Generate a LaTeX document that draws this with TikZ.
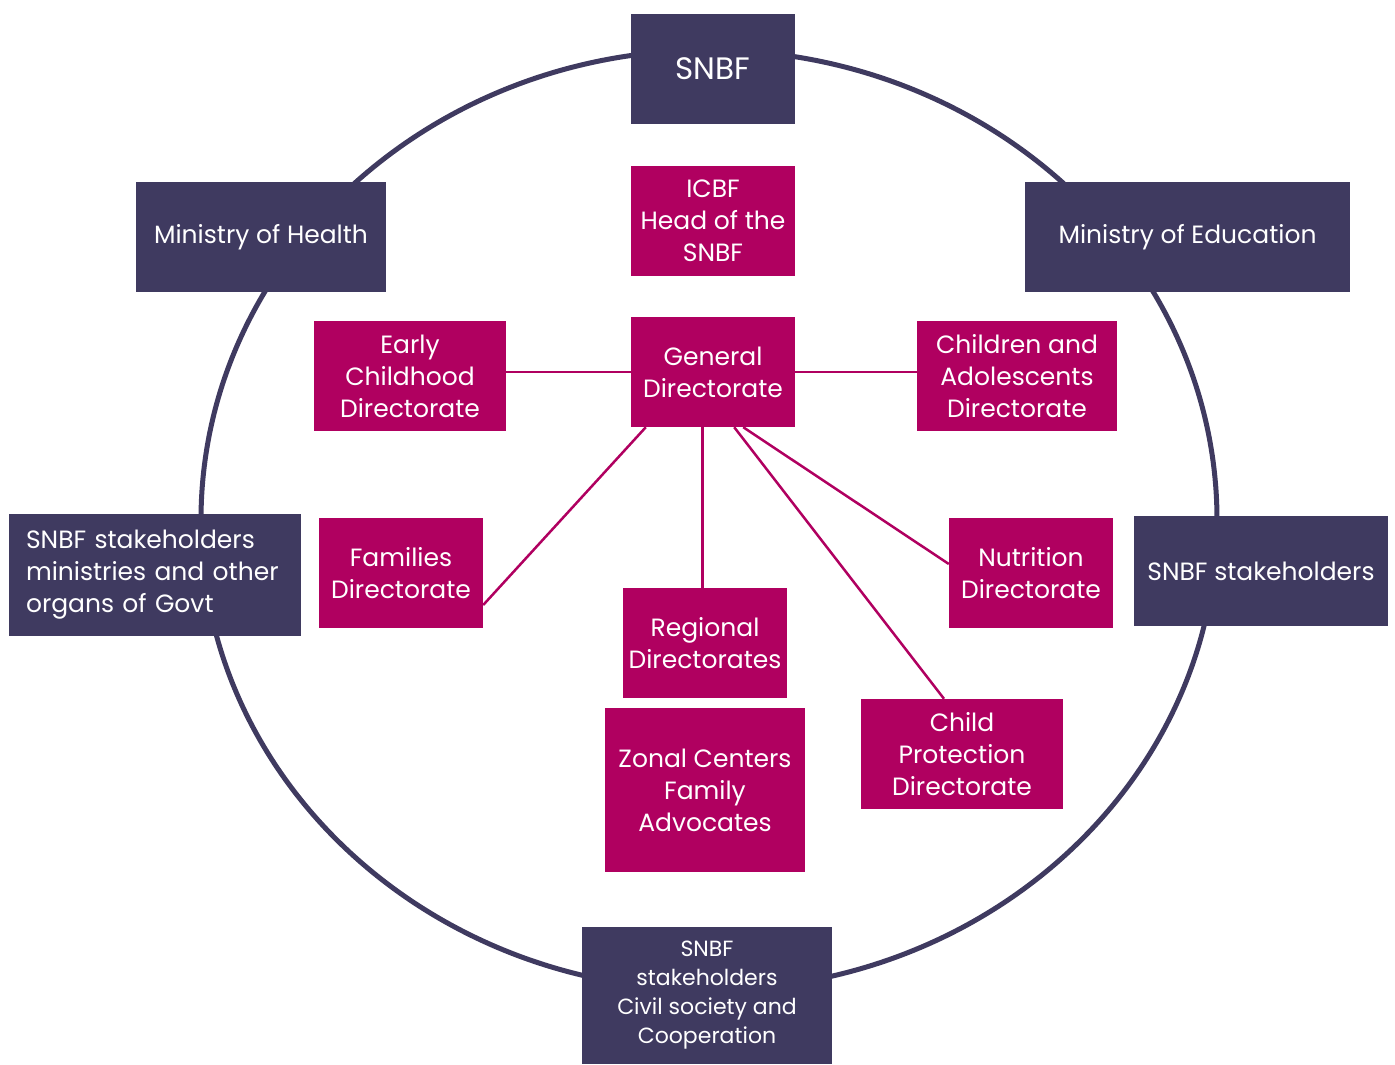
\documentclass[tikz,border=0pt]{standalone}
\usepackage{fontspec}
\setmainfont{Poppins}
\usetikzlibrary{calc}
\definecolor{navy}{RGB}{63,58,96}
\definecolor{mag}{RGB}{176,0,96}
\tikzset{
  dbox/.style={fill=navy, text=white, inner sep=0pt, align=center, font=\fontsize{25}{32}\selectfont},
  mbox/.style={fill=mag, text=white, inner sep=0pt, align=center, font=\fontsize{25}{32}\selectfont},
  link/.style={draw=mag, line width=2.5pt},
  ring/.style={draw=navy, line width=5pt}
}
\begin{document}
\begin{tikzpicture}[x=1pt,y=-1pt]
\useasboundingbox (0,0) rectangle (1395,1065);
\draw[ring] (709,520) ellipse [x radius=508pt, y radius=470pt];
% dark boxes
\node[dbox, minimum width=164pt, minimum height=110pt, font=\fontsize{31}{36}\selectfont] (snbf) at (713,69) {SNBF};
\node[dbox, minimum width=250pt, minimum height=110pt] (moh) at (261,237) {Ministry of Health};
\node[dbox, minimum width=325pt, minimum height=110pt] (moe) at (1187.5,237) {Ministry of Education};
\node[dbox, minimum width=292pt, minimum height=122pt, text width=258pt, align=left] (stl) at (155,575) {SNBF stakeholders\\ministries and other\\organs of Govt};
\node[dbox, minimum width=254pt, minimum height=110pt] (str) at (1261,571) {SNBF stakeholders};
\node[dbox, minimum width=250pt, minimum height=137pt, font=\fontsize{22}{29}\selectfont] (stb) at (707,995.5) {SNBF\\stakeholders\\Civil society and\\Cooperation};
% magenta boxes
\node[mbox, minimum width=164pt, minimum height=110pt] (icbf) at (713,221) {ICBF\\Head of the\\SNBF};
\node[mbox, minimum width=164pt, minimum height=110pt] (gen) at (713,372) {General\\Directorate};
\node[mbox, minimum width=192pt, minimum height=110pt] (ec) at (410,376) {Early\\Childhood\\Directorate};
\node[mbox, minimum width=200pt, minimum height=110pt] (ca) at (1017,376) {Children and\\Adolescents\\Directorate};
\node[mbox, minimum width=164pt, minimum height=110pt] (fam) at (401,573) {Families\\Directorate};
\node[mbox, minimum width=164pt, minimum height=110pt] (nut) at (1031,573) {Nutrition\\Directorate};
\node[mbox, minimum width=164pt, minimum height=110pt] (reg) at (705,643) {Regional\\Directorates};
\node[mbox, minimum width=200pt, minimum height=164pt] (zon) at (705,790) {Zonal Centers\\Family\\Advocates};
\node[mbox, minimum width=202pt, minimum height=110pt] (cp) at (962,754) {Child\\Protection\\Directorate};
% connectors
\draw[link] (gen.west) -- (ec.east |- gen.west);
\draw[link] (gen.east) -- (ca.west |- gen.east);
\draw[link] ($(gen.south west)+(15,0)$) -- ($(fam.east)+(0,32)$);
\coordinate (rt) at ($(reg.north)+(-2.5,0)$);
\draw[link] (gen.south -| rt) -- (rt);
\draw[link] ($(gen.south east)+(-61,0)$) -- ($(cp.north)+(-18,0)$);
\draw[link] ($(gen.south east)+(-52,0)$) -- ($(nut.west)+(0,-9)$);
\end{tikzpicture}
\end{document}
